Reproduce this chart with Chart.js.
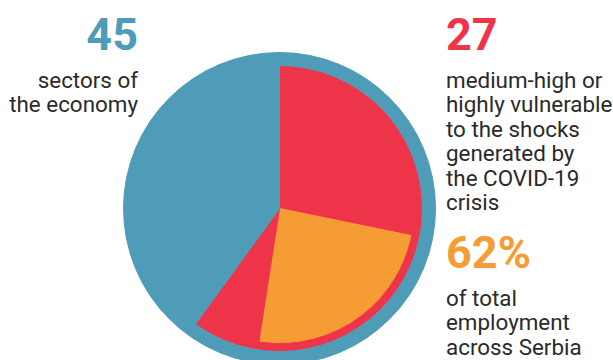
<!DOCTYPE html>
<html>
<head>
<meta charset="utf-8">
<script src="https://cdn.jsdelivr.net/npm/chart.js@4/dist/chart.umd.min.js"></script>
<style>
    html, body { margin: 0; padding: 0; background: #fff; }
    body { width: 613px; height: 360px; overflow: hidden; position: relative; font-family: Roboto, "Noto Sans", sans-serif; color: #2a2a2a; }
    .pie-box { position: absolute; left: 123px; top: 52px; width: 313px; height: 313px; }
    .block { position: absolute; font-size: 22.4px; line-height: 24.5px; }
    .big { font-size: 45px; line-height: 45px; font-weight: 700; }
    .left { right: 475px; text-align: right; }
    .right { left: 446px; text-align: left; }
</style>
</head>
<body>
<div class="block left" style="top:12px;">
    <div class="big" style="color:#4f9cb9;">45</div>
    <div style="margin-top:10.5px;">sectors of<br>the economy</div>
</div>
<div class="block right" style="top:12px;">
    <div class="big" style="color:#ee3449;">27</div>
    <div style="margin-top:10.5px;">medium-high or<br>highly vulnerable<br>to the shocks<br>generated by<br>the COVID-19<br>crisis</div>
</div>
<div class="block right" style="top:230px;">
    <div class="big" style="color:#f69c34;">62%</div>
    <div style="margin-top:10.5px;">of total<br>employment<br>across Serbia</div>
</div>
<div class="pie-box"><canvas id="pieChart"></canvas></div>

<script>
// --- DATA (sectors of the economy) ---
const totalSectors = [45];
const vulnerableSplit = [27, 18];              // vulnerable, other
const innerSlices = [12.7, 10.9, 3.4, 18];     // vulnerable, employment share, vulnerable, other

// --- COLOURS ---
const BLUE = '#4f9cb9';
const RED = '#ee3449';
const ORANGE = '#f69c34';

const outerColors = [BLUE];
const middleColors = [RED, BLUE];
const innerColors = [RED, ORANGE, RED, BLUE];

// one concentric ring of the pie; border in the fill colour hides seams
function ring(data, colors, weight) {
    return {
        data: data,
        backgroundColor: colors,
        borderColor: colors,
        borderWidth: 1,
        hoverBorderWidth: 1,
        hoverOffset: 0,
        weight: weight
    };
}

new Chart(document.getElementById('pieChart'), {
    type: 'pie',
    data: {
        labels: ['A', 'B', 'C', 'D'],
        datasets: [
            ring(totalSectors, outerColors, 13),
            ring(vulnerableSplit, middleColors, 8),
            ring(innerSlices, innerColors, 135.5)
        ]
    },
    options: {
        responsive: true,
        maintainAspectRatio: false,
        animation: false,
        events: [],
        layout: { padding: 0 },
        plugins: {
            legend: { display: false },
            tooltip: { enabled: false }
        }
    }
});
</script>
</body>
</html>
